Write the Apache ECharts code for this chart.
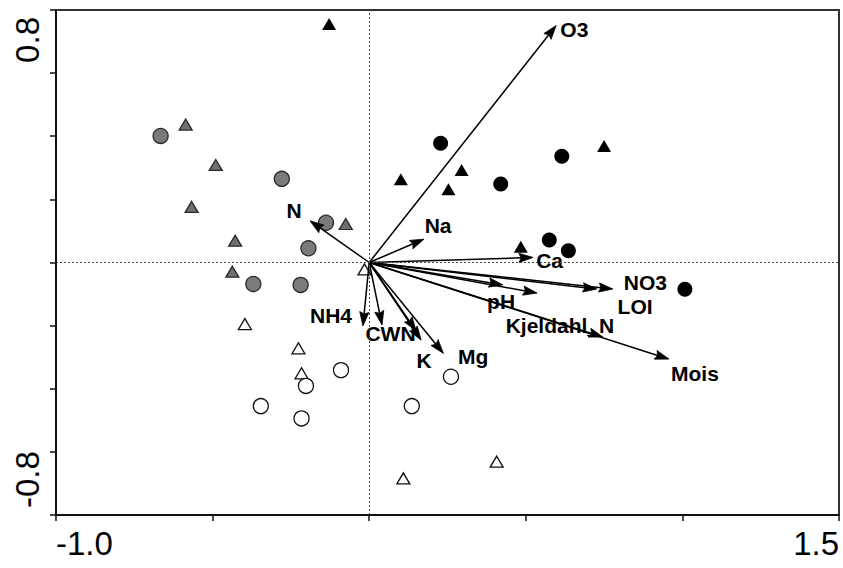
<!DOCTYPE html>
<html>
<head>
<meta charset="utf-8">
<script src="https://cdn.jsdelivr.net/npm/echarts@6/dist/echarts.min.js"></script>
<style>
  html, body { margin: 0; padding: 0; background: #fff; }
  #chart { width: 843px; height: 568px; }
</style>
</head>
<body>
<div id="chart"></div>
<script>
// Sample scores on ordination axes 1 and 2, one list per site group
const greyCircles = [[-0.666, 0.401], [-0.279, 0.265], [-0.138, 0.126], [-0.194, 0.045], [-0.370, -0.068], [-0.219, -0.071]];
const greyTriangles = [[-0.586, 0.437], [-0.490, 0.309], [-0.567, 0.176], [-0.428, 0.069], [-0.437, -0.029], [-0.075, 0.122]];
const blackTriangles = [[-0.128, 0.756], [0.101, 0.264], [0.295, 0.293], [0.253, 0.232], [0.484, 0.050], [0.750, 0.369]];
const blackCircles = [[0.228, 0.378], [0.420, 0.249], [0.615, 0.337], [0.575, 0.071], [0.636, 0.037], [1.008, -0.085]];
const whiteTriangles = [[-0.397, -0.195], [-0.226, -0.272], [-0.216, -0.351], [0.109, -0.684], [0.407, -0.631], [-0.015, -0.022]];
const whiteCircles = [[-0.346, -0.455], [-0.202, -0.391], [-0.216, -0.494], [-0.090, -0.341], [0.136, -0.455], [0.261, -0.362]];

// Environmental variable arrows: tip coordinates (all start at the origin)
const arrowTips = [
  [0.597, 0.751],   // O3
  [-0.189, 0.132],  // N
  [0.175, 0.074],   // Na
  [0.523, 0.016],   // Ca
  [0.427, -0.071],  // pH
  [0.536, -0.097],
  [0.727, -0.084],  // LOI
  [0.778, -0.084],  // NO3
  [0.746, -0.236],  // Kjeldahl_N
  [0.957, -0.306],  // Mois
  [-0.020, -0.201], // NH4
  [0.041, -0.198],  // CWN
  [0.150, -0.217],  // K
  [0.166, -0.246],
  [0.237, -0.288]   // Mg
];

// Variable names and where their labels sit
const varNames = ['O3', 'N', 'Na', 'Ca', 'pH', 'Kjeldahl_N', 'NO3', 'LOI', 'Mois', 'NH4', 'CWN', 'K', 'Mg'];
const varLabelPos = [
  [0.655, 0.737], [-0.240, 0.166], [0.220, 0.117], [0.576, 0.006], [0.421, -0.122],
  [0.609, -0.200], [0.882, -0.064], [0.849, -0.138], [1.040, -0.351], [-0.122, -0.169],
  [0.068, -0.226], [0.175, -0.311], [0.332, -0.298]
];

// Axis end labels
const xEndLabels = ['-1.0', '1.5'];
const yEndLabels = ['-0.8', '0.8'];

const X_MIN = -1.0, X_MAX = 1.5, Y_MIN = -0.8, Y_MAX = 0.8;
const FONT = "'Liberation Sans', Arial, sans-serif";

function near(a, b) { return Math.abs(a - b) < 1e-6; }

function pointSeries(data, symbol, fill, stroke) {
  const isTri = symbol === 'triangle';
  const solid = fill === '#000';
  return {
    type: 'scatter',
    data: data,
    symbol: symbol,
    symbolSize: isTri ? (solid ? [14, 12] : [13, 11]) : 15,
    itemStyle: { color: fill, borderColor: stroke, borderWidth: solid ? 0 : 1.3, opacity: 1 },
    z: 2,
    silent: true
  };
}

const chart = echarts.init(document.getElementById('chart'), null, { renderer: 'svg' });

chart.setOption({
  animation: false,
  backgroundColor: '#fff',
  grid: {
    left: 56, right: 4, top: 10, bottom: 53,
    show: true, borderColor: '#333', borderWidth: 2, backgroundColor: 'transparent'
  },
  xAxis: {
    type: 'value', min: X_MIN, max: X_MAX, interval: 0.5,
    splitLine: { show: false },
    axisLine: { onZero: false, lineStyle: { color: '#111', width: 2 } },
    axisTick: { length: 6, lineStyle: { color: '#111', width: 1.5 } },
    axisLabel: {
      fontSize: 33, fontFamily: FONT, color: '#000', margin: 12,
      alignMinLabel: 'left', alignMaxLabel: 'right',
      formatter: v => near(v, X_MIN) ? xEndLabels[0] : (near(v, X_MAX) ? xEndLabels[1] : '')
    }
  },
  yAxis: {
    type: 'value', min: Y_MIN, max: Y_MAX, interval: 0.2,
    splitLine: { show: false },
    axisLine: { onZero: false, lineStyle: { color: '#111', width: 2 } },
    axisTick: { length: 6, lineStyle: { color: '#111', width: 1.5 } },
    axisLabel: {
      fontSize: 33, fontFamily: FONT, color: '#000', margin: 12, rotate: 90,
      alignMinLabel: 'left', alignMaxLabel: 'right',
      padding: [0, 7, 0, 7],
      formatter: v => near(v, Y_MIN) ? yEndLabels[0] : (near(v, Y_MAX) ? yEndLabels[1] : '')
    }
  },
  series: [
    Object.assign(pointSeries(greyCircles, 'circle', '#7b7b7b', '#2a2a2a'), {
      markLine: {
        silent: true, symbol: 'none', animation: false,
        label: { show: false },
        lineStyle: { type: [2, 2], color: '#444', width: 1 },
        data: [{ xAxis: 0 }, { yAxis: 0 }]
      }
    }),
    pointSeries(greyTriangles, 'triangle', '#6f6f6f', '#2a2a2a'),
    pointSeries(blackTriangles, 'triangle', '#000', '#000'),
    pointSeries(blackCircles, 'circle', '#000', '#000'),
    pointSeries(whiteTriangles, 'triangle', '#fff', '#111'),
    pointSeries(whiteCircles, 'circle', '#fff', '#111'),
    {
      // arrows from the origin to each variable's tip
      type: 'custom',
      data: arrowTips,
      encode: { x: 0, y: 1 },
      z: 3,
      silent: true,
      renderItem: function (params, api) {
        const o = api.coord([0, 0]);
        const t = api.coord([api.value(0), api.value(1)]);
        const dx = t[0] - o[0], dy = t[1] - o[1];
        const len = Math.sqrt(dx * dx + dy * dy);
        const ux = dx / len, uy = dy / len;
        const hl = 14, hw = 4.6;
        const bx = t[0] - ux * hl, by = t[1] - uy * hl;
        const nx = t[0] - ux * hl * 0.85, ny = t[1] - uy * hl * 0.85;
        return {
          type: 'group',
          children: [
            {
              type: 'line',
              shape: { x1: o[0], y1: o[1], x2: nx, y2: ny },
              style: { stroke: '#000', lineWidth: 1.5 }
            },
            {
              type: 'polygon',
              shape: { points: [[t[0], t[1]], [bx - uy * hw, by + ux * hw], [nx, ny], [bx + uy * hw, by - ux * hw]] },
              style: { fill: '#000', stroke: '#000', lineWidth: 0.8 }
            }
          ]
        };
      }
    },
    {
      // variable name labels
      type: 'custom',
      data: varLabelPos.map((p, i) => [p[0], p[1], i]),
      encode: { x: 0, y: 1 },
      z: 4,
      silent: true,
      renderItem: function (params, api) {
        const p = api.coord([api.value(0), api.value(1)]);
        return {
          type: 'text',
          x: p[0], y: p[1],
          style: {
            text: varNames[api.value(2)],
            font: 'bold 21px ' + FONT,
            fill: '#000',
            align: 'center',
            verticalAlign: 'middle'
          }
        };
      }
    }
  ]
});
</script>
</body>
</html>
